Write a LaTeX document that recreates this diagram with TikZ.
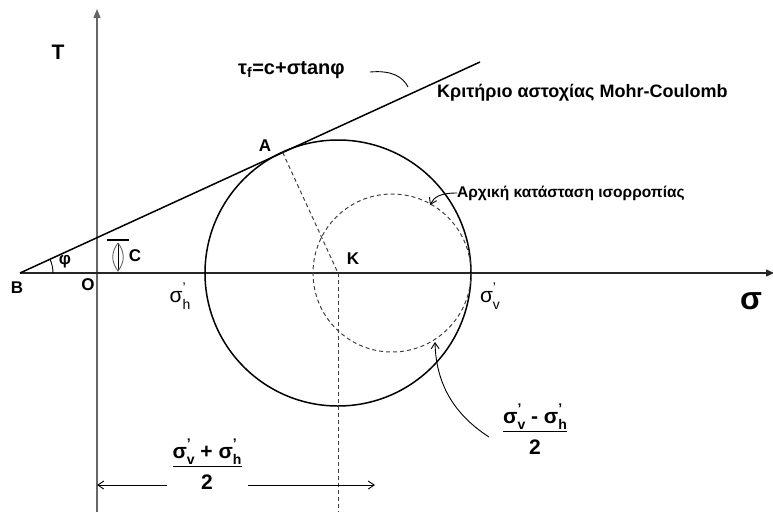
\documentclass[tikz,border=0pt]{standalone}
\usepackage{fontspec}
\setmainfont{Liberation Sans}
\usetikzlibrary{arrows.meta,calc}
\newcommand\sgp[2]{σ\rlap{\raisebox{0.5em}{\fontsize{#2}{#2}\selectfont'}}\raisebox{-0.3em}{\fontsize{#2}{#2}\selectfont #1}}
\newcommand\fracbox[2]{\setlength\arrayrulewidth{1.4pt}\begin{tabular}{@{}c@{}}#1\\[1pt]\hline\rule{0pt}{1.05em}#2\end{tabular}}
\begin{document}
\begin{tikzpicture}[x=1pt,y=-1pt,
  lbl/.style={font=\bfseries\fontsize{17}{17}\selectfont, inner sep=0pt},
  ln/.style={line width=1.5pt},
  dsh/.style={line width=1pt, dash pattern=on 4pt off 3pt, black!75},
  barb/.style={-{Straight Barb[length=6pt,width=8pt]}},
  thin line/.style={line width=0.9pt}
]
\useasboundingbox (0,0) rectangle (773,512);
\coordinate (B) at (20,273);
\coordinate (E) at (480,62);
\coordinate (K) at (338,273);
\coordinate (K2) at (392,273);
\coordinate (Xend) at (774,273);
\coordinate (Ytop) at (97,9);
\coordinate (Ybot) at (97,512);
\coordinate (Kbot) at (338,512);
\coordinate (A) at ($(B)!(K)!(E)$);
\coordinate (Phi0) at (53,273);
% axes
\draw[line width=1.3pt, black!60, -{Triangle[length=9pt,width=7pt]}] (Ybot) -- (Ytop);
\draw[line width=1.3pt, black!85, -{Triangle[length=8pt,width=7pt]}] (B) -- (Xend);
% envelope
\draw[ln] (B) -- (E);
% circles
\draw[ln] (K) circle[radius=133];
\draw[dsh] (K2) circle[radius=79];
\draw[dsh] (A) -- (K);
\draw[dsh] (K) -- (Kbot);
% phi arc
\draw[thin line] (Phi0) arc[start angle=0, end angle=-24.6, radius=33];
% C marker
\coordinate (Ct) at (118,243);
\coordinate (Cb) at (118,271);
\coordinate (CbarL) at (107,240);
\coordinate (CbarR) at (129,240);
\draw[line width=1.2pt] (CbarL) -- (CbarR);
\draw[line width=0.9pt] (Ct) -- (Cb);
\draw[line width=0.9pt, black!60] (Ct) .. controls (111,252) and (111,262) .. (Cb) .. controls (125,262) and (125,252) .. (Ct);
% labels
\node[lbl, font=\bfseries\fontsize{21}{21}\selectfont] (T) at (58,52) {T};
\node[lbl] (Bl) at (17,288) {B};
\node[lbl] (Ol) at (88,285) {O};
\node[lbl] (phi) at (65,262) {φ};
\node[lbl] (Cl) at (135,256) {C};
\node[lbl] (Kl) at (353,259) {K};
\node[lbl] (Al) at (265,146) {A};
\node[lbl, font=\bfseries\fontsize{32}{32}\selectfont] (sig) at (751,301) {σ};
\node[inner sep=0pt, font=\fontsize{21}{21}\selectfont] (sh) at (180,296) {\sgp{h}{14}};
\node[inner sep=0pt, font=\fontsize{21}{21}\selectfont] (sv) at (490,296) {\sgp{v}{14}};
% tau_f
\node[lbl, anchor=west, font=\bfseries\fontsize{20}{20}\selectfont] (tau) at (238,70) {τ\textsubscript{f}=c+σtanφ};
\coordinate (tauL) at (370,72);
\coordinate (tauE) at (408,87);
\draw[thin line] (tauL) .. controls (392,70) and (403,77) .. (tauE);
\node[lbl, anchor=west, font=\bfseries\fontsize{18}{18}\selectfont] (crit) at (437,93) {Κριτήριο αστοχίας Mohr-Coulomb};
% initial state
\node[lbl, anchor=west, font=\bfseries\fontsize{15.5}{15.5}\selectfont] (init) at (457,193) {Αρχική κατάσταση ισορροπίας};
\coordinate (initTip) at (430,205);
\draw[thin line, barb] (init.west) .. controls (440,193) and (434,197) .. (initTip);
% fractions
\node[inner sep=0pt, font=\bfseries\fontsize{21}{21}\selectfont] (f1) at (207,467) {\fracbox{\sgp{v}{14} + \sgp{h}{14}}{2}};
\coordinate (dL) at (97,485);
\coordinate (dR) at (375,485);
\coordinate (g1) at (167,485);
\coordinate (g2) at (248,485);
\draw[thin line, barb] (g1) -- (dL);
\draw[thin line, barb] (g2) -- (dR);
\node[inner sep=0pt, font=\bfseries\fontsize{21}{21}\selectfont] (f2) at (535,432) {\fracbox{\sgp{v}{14} - \sgp{h}{14}}{2}};
\coordinate (rS) at (489,437);
\coordinate (rT) at (435,342);
\draw[thin line, barb] (rS) .. controls (455,415) and (436,385) .. (rT);
\end{tikzpicture}
\end{document}
